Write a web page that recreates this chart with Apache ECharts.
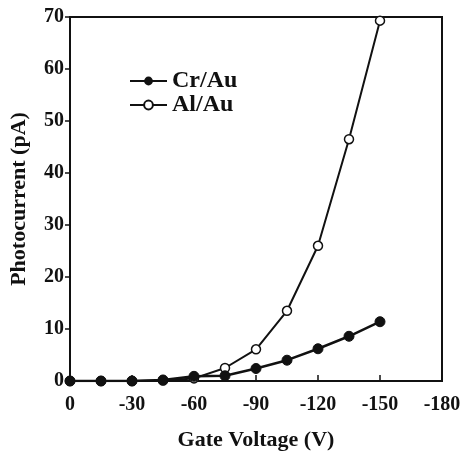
<!DOCTYPE html>
<html>
<head>
<meta charset="utf-8">
<script src="https://cdn.jsdelivr.net/npm/echarts@6/dist/echarts.min.js"></script>
<style>
html,body{margin:0;padding:0;background:#fff;}
#chart{width:462px;height:452px;}
</style>
</head>
<body>
<div id="chart"></div>
<script>
// gate voltage (V)
var gateVoltage = [0, -15, -30, -45, -60, -75, -90, -105, -120, -135, -150];
// photocurrent (pA)
var crAu = [0, 0, 0, 0.2, 0.9, 1.0, 2.4, 4.0, 6.2, 8.6, 11.4];
var alAu = [0, 0, 0, 0.1, 0.5, 2.5, 6.1, 13.5, 26.0, 46.5, 69.3];
var xTicks = [0, -30, -60, -90, -120, -150, -180];

var font = 'Liberation Serif';

function pairs(xs, ys){
	var out = [];
	for(var i = 0; i < xs.length; i++){
		out.push([xs[i], ys[i]]);
	}
	return out;
}

var chart = echarts.init(document.getElementById('chart'));
var option = {
	animation: false,
	backgroundColor: '#fff',
	grid: {
		left: 70, right: 20, top: 17, bottom: 71,
		outerBoundsMode: 'none',
		containLabel: false,
		show: true, borderColor: '#111', borderWidth: 2
	},
	legend: {
		orient: 'vertical',
		left: 124, top: 64,
		itemWidth: 37, itemHeight: 11, itemGap: 0,
		textStyle: {fontFamily: font, fontWeight: 'bold', fontSize: 24, color: '#111'},
		data: ['Cr/Au', 'Al/Au']
	},
	xAxis: {
		type: 'value',
		min: -180, max: 0, interval: 30,
		inverse: true,
		name: 'Gate Voltage (V)',
		nameLocation: 'middle', nameGap: 48,
		nameTextStyle: {fontFamily: font, fontWeight: 'bold', fontSize: 22, color: '#111'},
		axisLine: {lineStyle: {color: '#111', width: 2}},
		axisTick: {inside: true, length: 6, lineStyle: {color: '#111', width: 1.5}},
		axisLabel: {fontFamily: font, fontWeight: 'bold', fontSize: 20, color: '#111', margin: 14,
			formatter: function(v){ return xTicks.indexOf(v) >= 0 ? String(v) : ''; }},
		splitLine: {show: false}
	},
	yAxis: {
		type: 'value',
		min: 0, max: 70, interval: 10,
		name: 'Photocurrent (pA)',
		nameLocation: 'middle', nameGap: 40,
		nameTextStyle: {fontFamily: font, fontWeight: 'bold', fontSize: 22, color: '#111'},
		axisLine: {lineStyle: {color: '#111', width: 2}},
		axisTick: {inside: false, length: 5, lineStyle: {color: '#111', width: 1.5}},
		axisLabel: {fontFamily: font, fontWeight: 'bold', fontSize: 20, color: '#111', margin: 6},
		splitLine: {show: false}
	},
	series: [
		{
			name: 'Al/Au', type: 'line',
			data: pairs(gateVoltage, alAu),
			symbol: 'circle', symbolSize: 9,
			itemStyle: {color: '#fff', borderColor: '#111', borderWidth: 1.5},
			lineStyle: {color: '#111', width: 2},
			z: 2
		},
		{
			name: 'Cr/Au', type: 'line',
			data: pairs(gateVoltage, crAu),
			symbol: 'circle', symbolSize: 10,
			itemStyle: {color: '#111', borderColor: '#111'},
			lineStyle: {color: '#111', width: 2.5},
			z: 3
		}
	]
};
chart.setOption(option);
</script>
</body>
</html>
